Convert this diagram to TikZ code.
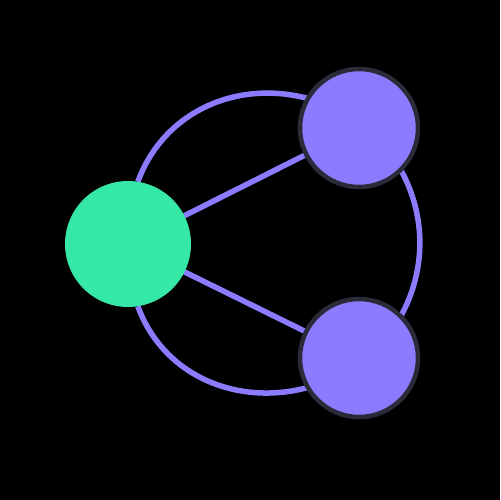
\documentclass[tikz,border=0pt]{standalone}
\pgfdeclarelayer{bg}
\pgfdeclarelayer{edges}
\pgfsetlayers{bg,edges,main}
\definecolor{mint}{HTML}{36E8A6}
\definecolor{violet}{HTML}{8B7CFF}
\definecolor{rim}{HTML}{2A2A38}
\tikzset{
  hub/.style={circle, fill=mint, minimum size=126bp, inner sep=0pt, outer sep=0pt},
  leaf/.style={circle, fill=violet, draw=rim, line width=4.5bp, minimum size=118bp, inner sep=0pt, outer sep=0pt},
  link/.style={draw=violet, line width=5.5bp}
}
\begin{document}
\begin{tikzpicture}[x=1bp, y=-1bp]
\useasboundingbox (0,0) rectangle (500,500);
\begin{pgfonlayer}{bg}
\fill[black] (0,0) rectangle (500,500);
\end{pgfonlayer}
\node[hub] (g) at (128,244) {};
\node[leaf] (t) at (359,128) {};
\node[leaf] (b) at (359,358) {};
\begin{pgfonlayer}{edges}
\draw[link] (g.center) -- (t.center);
\draw[link] (g.center) -- (b.center);
\draw[link] (g.81) to[out=70, in=165] (t.150);
\draw[link] (g.-81) to[out=-70, in=-165] (b.-150);
\draw[link] (t.-45) to[out=-61, in=61, looseness=0.92] (b.45);
\end{pgfonlayer}
\end{tikzpicture}
\end{document}
